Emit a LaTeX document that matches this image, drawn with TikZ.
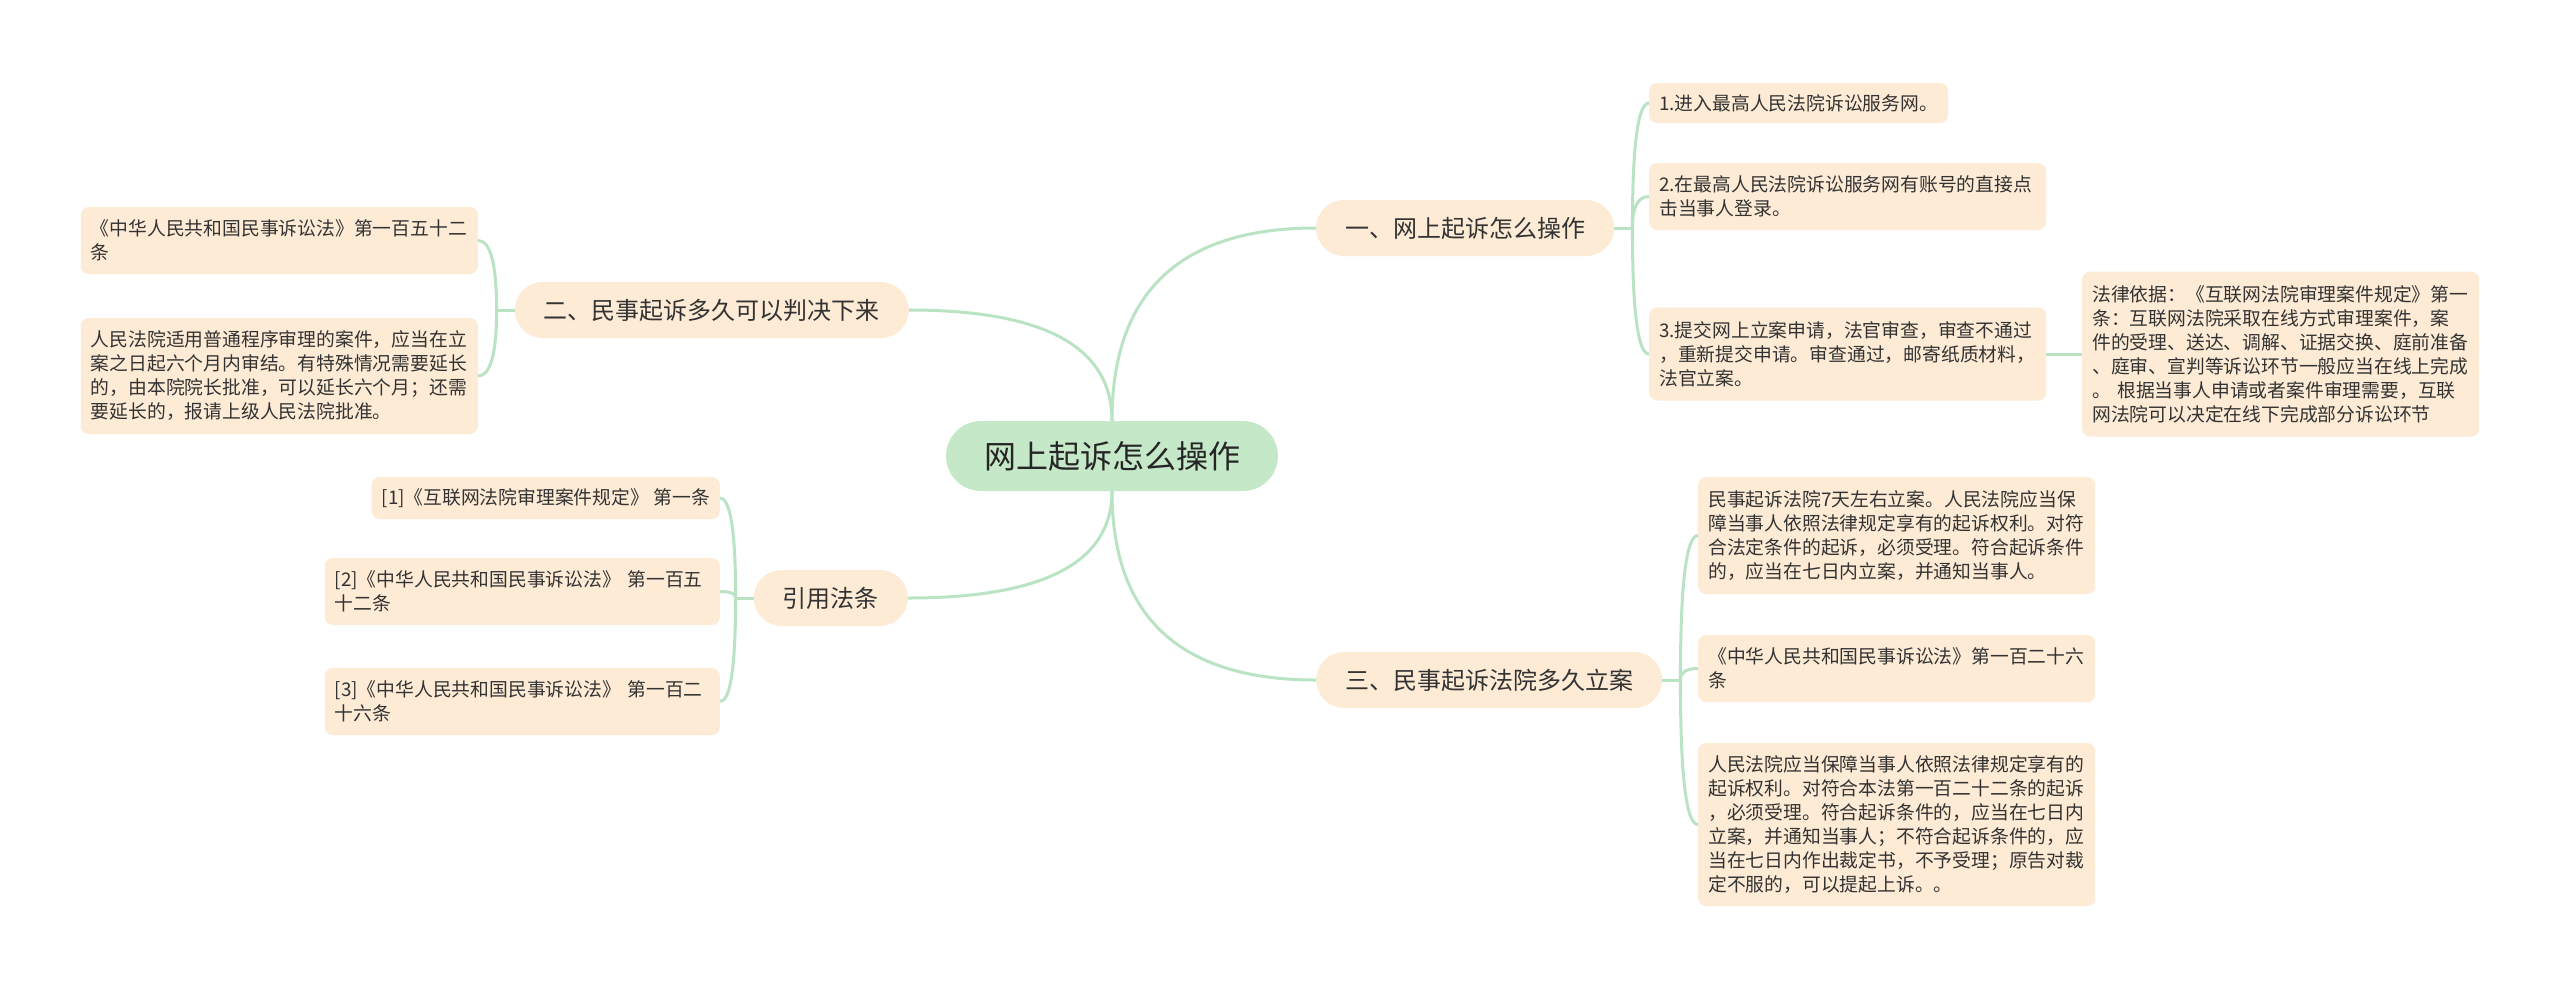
\documentclass[tikz,border=0pt]{standalone}
\usepackage{fontspec}
\setmainfont{Noto Sans CJK SC}
\usetikzlibrary{calc}
\definecolor{peach}{HTML}{FDEBD5}
\definecolor{rootgreen}{HTML}{C4E8C8}
\definecolor{linegreen}{HTML}{B9E3C3}
\definecolor{txt}{HTML}{333333}
\tikzset{
  leafbox/.style={fill=peach, rounded corners=8pt, text=txt, font=\fontsize{18.8}{24}\selectfont, align=left, inner xsep=10pt, inner ysep=0pt},
  wideleaf/.style={leafbox, text width=377pt},
  branchbox/.style={fill=peach, rounded corners=28pt, text=txt, font=\fontsize{24}{28}\selectfont, minimum height=56pt, inner xsep=29pt, inner ysep=0pt},
  rootbox/.style={fill=rootgreen, rounded corners=35pt, text=black!85, font=\fontsize{32}{36}\selectfont, minimum height=70pt, inner xsep=38pt, inner ysep=0pt},
  conn/.style={draw=linegreen, line width=3pt},
}
\newcommand\curveconn[2]{\draw[conn] (#1) .. controls ($(#1)!0.667!(#1 |- #2)$) and ($(#2)!0.667!(#1 |- #2)$) .. (#2);}
\begin{document}
\begin{tikzpicture}[x=1pt,y=-1pt]
\fill[white] (0,0) rectangle (2560,989);
\useasboundingbox (0,0) rectangle (2560,989);

% root
\node[rootbox] (root) at (1112,456) {网上起诉怎么操作};

% branches
\node[branchbox, anchor=west] (b1) at (1316,228) {一、网上起诉怎么操作};
\node[branchbox, anchor=west] (b3) at (1316,680) {三、民事起诉法院多久立案};
\node[branchbox, anchor=east] (b2) at (909,310) {二、民事起诉多久可以判决下来};
\node[branchbox, anchor=east] (b4) at (908,598) {引用法条};

% leaves of branch 1
\node[leafbox, anchor=west, minimum height=40pt] (l11) at (1649,103) {1.进入最高人民法院诉讼服务网。};
\node[wideleaf, anchor=west, minimum height=67pt] (l12) at (1649,196.5) {2.在最高人民法院诉讼服务网有账号的直接点\\击当事人登录。};
\node[wideleaf, anchor=west, minimum height=93pt] (l13) at (1649,354) {3.提交网上立案申请，法官审查，审查不通过\\，重新提交申请。审查通过，邮寄纸质材料，\\法官立案。};
\node[wideleaf, anchor=west, minimum height=165pt] (law) at (2082,354) {法律依据：《互联网法院审理案件规定》第一\\条：互联网法院采取在线方式审理案件，案\\件的受理、送达、调解、证据交换、庭前准备\\、庭审、宣判等诉讼环节一般应当在线上完成\\。 根据当事人申请或者案件审理需要，互联\\网法院可以决定在线下完成部分诉讼环节};

% leaves of branch 3
\node[wideleaf, anchor=west, minimum height=117pt] (l31) at (1698,535.5) {民事起诉法院7天左右立案。人民法院应当保\\障当事人依照法律规定享有的起诉权利。对符\\合法定条件的起诉，必须受理。符合起诉条件\\的，应当在七日内立案，并通知当事人。};
\node[wideleaf, anchor=west, minimum height=67pt] (l32) at (1698,668.5) {《中华人民共和国民事诉讼法》第一百二十六\\条};
\node[wideleaf, anchor=west, minimum height=163pt] (l33) at (1698,824.5) {人民法院应当保障当事人依照法律规定享有的\\起诉权利。对符合本法第一百二十二条的起诉\\，必须受理。符合起诉条件的，应当在七日内\\立案，并通知当事人；不符合起诉条件的，应\\当在七日内作出裁定书，不予受理；原告对裁\\定不服的，可以提起上诉。。};

% leaves of branch 2
\node[wideleaf, anchor=east, minimum height=67pt] (l21) at (478,240.5) {《中华人民共和国民事诉讼法》第一百五十二\\条};
\node[wideleaf, anchor=east, minimum height=116pt] (l22) at (478,376) {人民法院适用普通程序审理的案件，应当在立\\案之日起六个月内审结。有特殊情况需要延长\\的，由本院院长批准，可以延长六个月；还需\\要延长的，报请上级人民法院批准。};

% leaves of branch 4
\node[leafbox, anchor=east, minimum height=42pt] (l41) at (720,498) {[1]《互联网法院审理案件规定》 第一条};
\node[wideleaf, anchor=east, minimum height=67pt, text width=375pt] (l42) at (720,591.5) {[2]《中华人民共和国民事诉讼法》 第一百五\\十二条};
\node[wideleaf, anchor=east, minimum height=67pt, text width=375pt] (l43) at (720,701.5) {[3]《中华人民共和国民事诉讼法》 第一百二\\十六条};

% root connectors
\curveconn{root.north}{b1.west}
\curveconn{root.north}{b2.east}
\curveconn{root.south}{b3.west}
\curveconn{root.south}{b4.east}

% spines
\coordinate (s1) at ($(b1.east)+(18,0)$);
\coordinate (s3) at ($(b3.east)+(18,0)$);
\coordinate (s2) at ($(b2.west)+(-18,0)$);
\coordinate (s4) at ($(b4.west)+(-18,0)$);
\draw[conn] (b1.east) -- (s1);
\draw[conn] (b3.east) -- (s3);
\draw[conn] (b2.west) -- (s2);
\draw[conn] (b4.west) -- (s4);

\curveconn{s1}{l11.west}
\curveconn{s1}{l12.west}
\curveconn{s1}{l13.west}
\curveconn{s3}{l31.west}
\curveconn{s3}{l32.west}
\curveconn{s3}{l33.west}
\curveconn{s2}{l21.east}
\curveconn{s2}{l22.east}
\curveconn{s4}{l41.east}
\curveconn{s4}{l42.east}
\curveconn{s4}{l43.east}

\draw[conn] (l13.east) -- (law.west);
\end{tikzpicture}
\end{document}
